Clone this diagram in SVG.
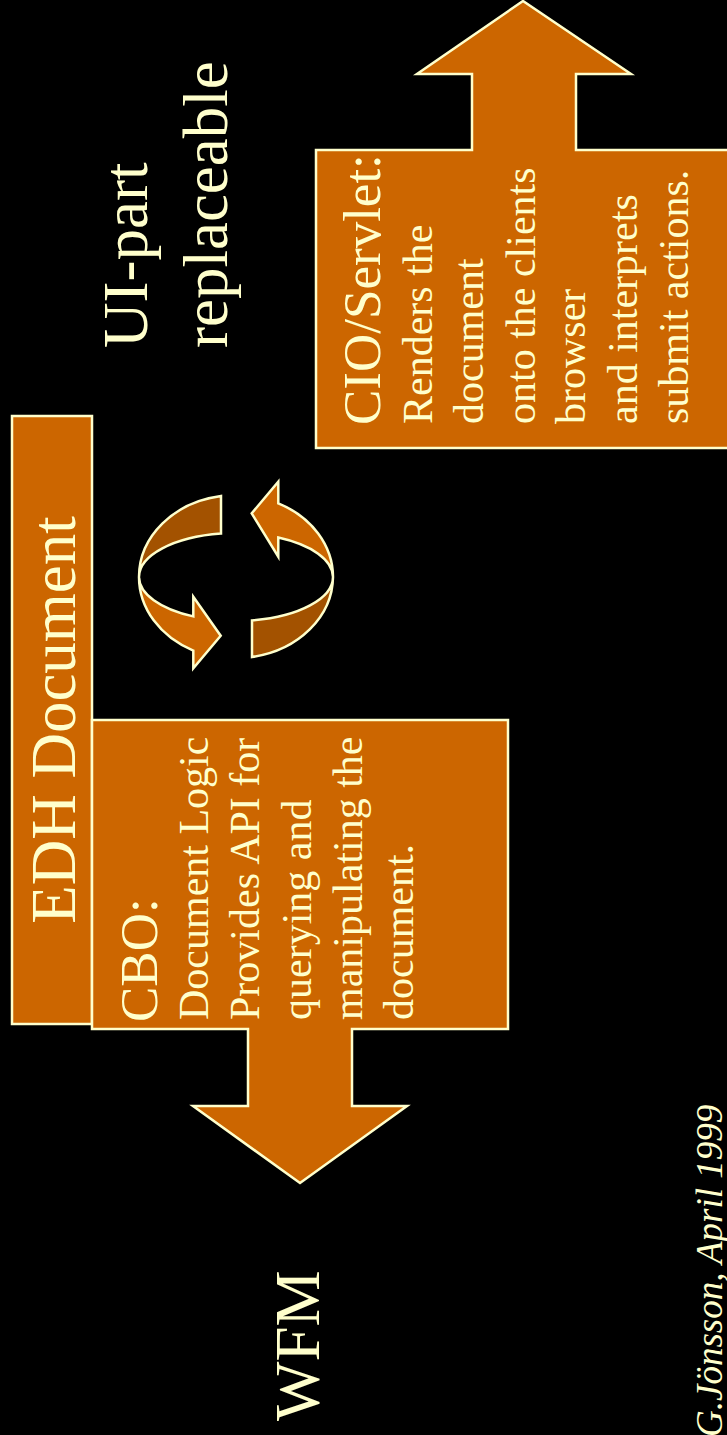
<svg xmlns="http://www.w3.org/2000/svg" width="727" height="1435" viewBox="0 0 727 1435">
<style>
.shape{fill:#CC6600;stroke:#FFFFCC;stroke-width:2.5;stroke-linejoin:miter}
.dark{fill:#A35200;stroke:#FFFFCC;stroke-width:2.5;stroke-linejoin:miter}
text{fill:#FFFFCC;font-family:"Liberation Serif","Times New Roman",serif}
.big{font-size:63px}
.head{font-size:53px}
.body{font-size:42px}
.credit{font-size:37px;font-style:italic}
</style>
<rect width="727" height="1435" fill="#000000"/>

<g id="node-cio">
<path class="shape" d="M316,448 L316,150 L472,150 L472,74 L417,74 L523,1 L631,74 L576,74 L576,150 L740,150 L740,448 Z"/>
<text class="head" transform="translate(380,425) rotate(-90)">CIO/Servlet:</text>
<text class="body" transform="translate(432,424) rotate(-90)">Renders the</text>
<text class="body" transform="translate(483,424) rotate(-90)">document</text>
<text class="body" transform="translate(535,424) rotate(-90)">onto the clients</text>
<text class="body" transform="translate(585,424) rotate(-90)">browser</text>
<text class="body" transform="translate(637,424) rotate(-90)">and interprets</text>
<text class="body" transform="translate(688,424) rotate(-90)">submit actions.</text>
</g>

<g id="node-edh">
<rect class="shape" x="12" y="416" width="80" height="608"/>
<text class="big" text-anchor="middle" transform="translate(75,720) rotate(-90)">EDH Document</text>
</g>

<g id="node-cbo">
<path class="shape" d="M92,720 L508,720 L508,1029 L352,1029 L352,1106 L407,1106 L300,1183 L193,1106 L248,1106 L248,1029 L92,1029 Z"/>
<text class="head" transform="translate(157,1022) rotate(-90)">CBO:</text>
<text class="body" transform="translate(208,1020) rotate(-90)">Document Logic</text>
<text class="body" transform="translate(259,1020) rotate(-90)">Provides API for</text>
<text class="body" transform="translate(311,1020) rotate(-90)">querying and</text>
<text class="body" transform="translate(362,1020) rotate(-90)">manipulating the</text>
<text class="body" transform="translate(413,1020) rotate(-90)">document.</text>
</g>

<g id="connectors">
<path class="dark" d="M221,496 A97,82 0 0 0 139,577 A97,44 0 0 1 221,533.6 Z"/>
<path class="shape" d="M139,577 A97,82 0 0 0 193.3,650.6 L193.3,668.3 L220.7,635.7 L193.3,596.7 L193.3,616.4 A97,44 0 0 1 139,577 Z"/>
<path class="dark" d="M252,657 A97,82 0 0 0 333,577 A97,44 0 0 1 252,620.4 Z"/>
<path class="shape" d="M333,577 A97,82 0 0 0 278.3,503.3 L278.3,481.7 L251.7,513.3 L278.3,556.7 L278.3,537.5 A97,44 0 0 1 333,577 Z"/>
</g>

<g id="label-ui">
<text class="big" transform="translate(147,348) rotate(-90)">UI-part</text>
<text class="big" transform="translate(227,348) rotate(-90)">replaceable</text>
</g>

<g id="label-wfm">
<text class="big" transform="translate(319,1421) rotate(-90)">WFM</text>
</g>

<g id="label-credit">
<text class="credit" transform="translate(722,1437) rotate(-90)">G.Jönsson, April 1999</text>
</g>
</svg>
